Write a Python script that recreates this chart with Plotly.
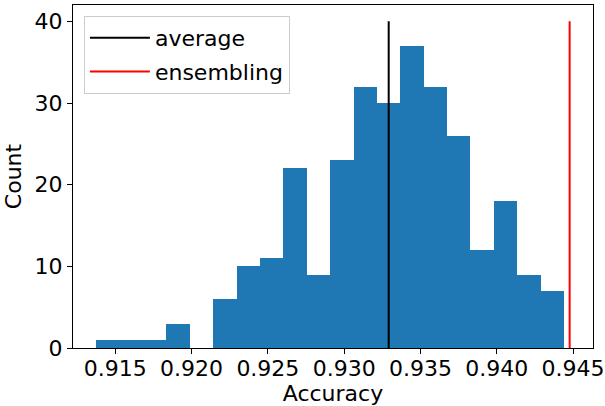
import plotly.graph_objects as go

# Histogram data
bin_start = 0.91375
bin_width = 0.001533
counts = [1, 1, 1, 3, 0, 6, 10, 11, 22, 9, 23, 32, 30, 37, 32, 26, 12, 18, 9, 7]
average_acc = 0.93292
ensemble_acc = 0.94478
line_top = 40
x_ticks = [0.915, 0.920, 0.925, 0.930, 0.935, 0.940, 0.945]
y_ticks = [0, 10, 20, 30, 40]

centers = [bin_start + bin_width * (i + 0.5) for i in range(len(counts))]

fig = go.Figure()
fig.add_trace(go.Bar(x=centers, y=counts, width=[bin_width] * len(counts),
                     marker=dict(color="#1f77b4", line=dict(width=0)),
                     showlegend=False))
fig.add_trace(go.Scatter(x=[average_acc, average_acc], y=[0, line_top], mode="lines",
                         line=dict(color="black", width=2), name="average", legendgroup="a"))
fig.add_trace(go.Scatter(x=[ensemble_acc, ensemble_acc], y=[0, line_top], mode="lines",
                         line=dict(color="red", width=2), name="ensembling", legendgroup="b"))

fs = 22
fig.update_layout(
    template="none",
    width=605, height=406,
    margin=dict(l=73, r=12, t=5, b=58, autoexpand=False),
    paper_bgcolor="white", plot_bgcolor="white",
    font=dict(family="DejaVu Sans", size=fs, color="black"), bargap=0,
    legend=dict(x=0.021, y=0.968, xanchor="left", yanchor="top",
                bgcolor="rgba(255,255,255,0.8)", bordercolor="#cccccc", borderwidth=1,
                font=dict(family="DejaVu Sans", size=fs), tracegroupgap=2,
                traceorder="grouped", itemwidth=60),
    xaxis=dict(range=[0.912228, 0.946311], tickvals=x_ticks, tickformat=".3f",
               showline=True, linecolor="black", linewidth=1, mirror=True, automargin=False,
               ticks="outside", ticklen=5, tickcolor="black", showgrid=False, zeroline=False,
               tickfont=dict(size=fs), ticklabeloverflow="allow", ticklabelstandoff=-4,
               title=dict(text="Accuracy", font=dict(size=fs), standoff=8)),
    yaxis=dict(range=[0, 42], tickvals=y_ticks, automargin=False,
               showline=True, linecolor="black", linewidth=1, mirror=True,
               ticks="outside", ticklen=5, tickcolor="black", showgrid=False, zeroline=False,
               tickfont=dict(size=fs), ticklabeloverflow="allow",
               title=dict(text="Count", font=dict(size=fs), standoff=6)),
)
fig.write_html("out.html", config={"displayModeBar": False},
               post_script="document.body.style.margin='0';")
